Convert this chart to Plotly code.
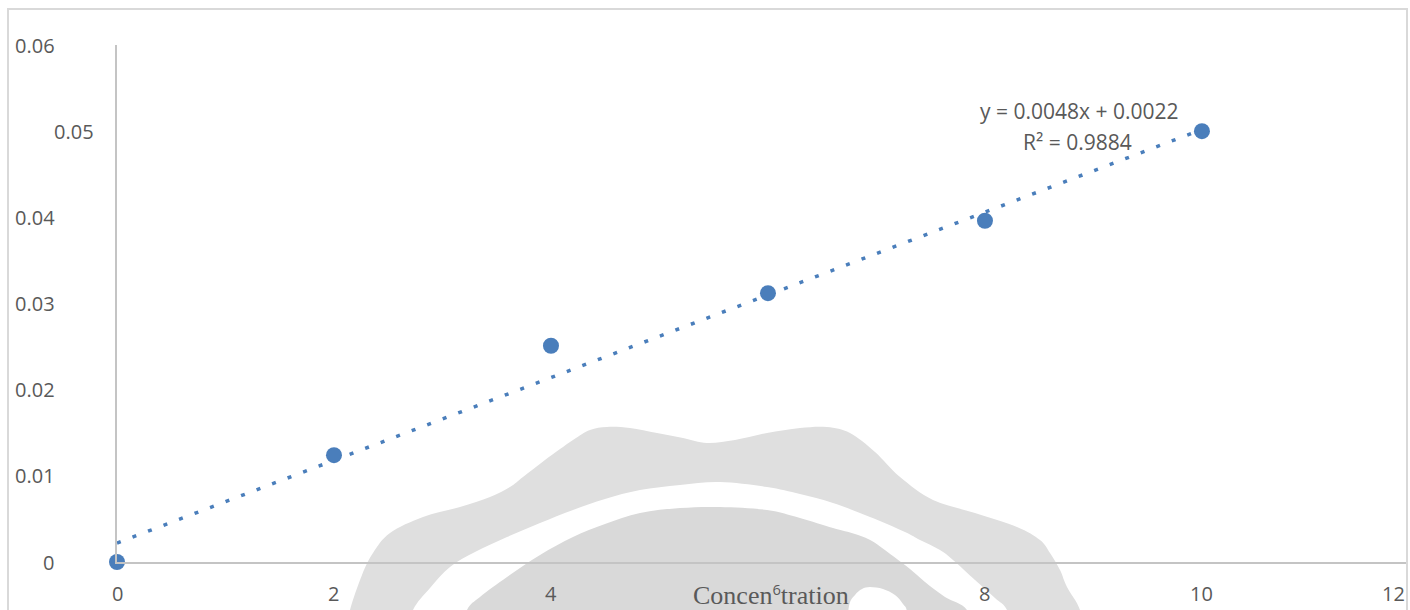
import plotly.graph_objects as go

# Calibration data: absorbance against concentration
concentration = [0, 2, 4, 6, 8, 10]
absorbance = [0.0, 0.0124, 0.0251, 0.0312, 0.0396, 0.0500]

# Linear trendline as reported on the chart
slope = 0.0048
intercept = 0.0022
r_squared = 0.9884
trend_x = [0, 10]

x_tick_values = [0, 2, 4, 8, 10]
x_tick_labels = ["0", "2", "4", "8", "10"]
x_last_label = "12"
y_tick_values = [0.06, 0.05, 0.04, 0.03, 0.02, 0.01, 0.0]
y_tick_labels = ["0.06", "0.05", "0.04", "0.03", "0.02", "0.01", "0"]

W, H = 1410, 610
L, R, T, B = 117, 3, 45, 48
PW, PH = W - L - R, H - T - B

BLUE = "#4A7EBB"
TXT = "#595959"
SANS = "Open Sans"


def px(xp):
    return (xp - L) / PW


def py(yp):
    return (H - B - yp) / PH


def smooth_path(points):
    """Closed outline through the points, smoothed with Catmull-Rom curves."""
    p = [(px(a), py(b)) for a, b in points]
    d = f"M {p[0][0]:.5f},{p[0][1]:.5f}"
    n = len(p)
    for i in range(n - 1):
        p0 = p[i - 1] if i > 0 else p[i]
        p1, p2 = p[i], p[i + 1]
        p3 = p[i + 2] if i + 2 < n else p[i + 1]
        c1 = (p1[0] + (p2[0] - p0[0]) / 6, p1[1] + (p2[1] - p0[1]) / 6)
        c2 = (p2[0] - (p3[0] - p1[0]) / 6, p2[1] - (p3[1] - p1[1]) / 6)
        d += (f" C {c1[0]:.5f},{c1[1]:.5f} {c2[0]:.5f},{c2[1]:.5f}"
              f" {p2[0]:.5f},{p2[1]:.5f}")
    return d + " Z"


trend_y = [slope * v + intercept for v in trend_x]

fig = go.Figure()
fig.add_trace(go.Scatter(
    x=trend_x, y=trend_y, mode="lines",
    line=dict(color=BLUE, width=3.5, dash="4px,12.6px"),
    hoverinfo="skip", showlegend=False, cliponaxis=False,
))
fig.add_trace(go.Scatter(
    x=concentration, y=absorbance, mode="markers",
    marker=dict(color=BLUE, size=16, line=dict(width=0)),
    showlegend=False, cliponaxis=False,
))

# background emblem
outer = [(345, 640), (350, 610), (362, 575), (373, 553), (390, 533), (423, 517),
         (460, 507), (490, 497), (510, 487), (523, 477), (545, 460), (573, 440),
         (590, 430), (607, 427), (630, 428), (657, 433), (683, 438), (707, 443),
         (735, 440), (767, 433), (800, 428), (827, 427), (850, 433), (875, 452),
         (900, 477), (933, 500), (975, 513), (1017, 527), (1040, 540), (1050, 553),
         (1060, 570), (1067, 587), (1080, 610), (1085, 640)]
ring = [(405, 640), (413, 610), (430, 588), (450, 567), (475, 552), (507, 537),
        (540, 523), (573, 510), (605, 499), (640, 490), (680, 485), (720, 482),
        (767, 487), (800, 494), (833, 503), (870, 517), (905, 532), (920, 540),
        (940, 550), (953, 560), (975, 580), (995, 598), (1007, 610), (1015, 640)]
inner = [(458, 640), (467, 610), (480, 597), (507, 577), (540, 555), (573, 537),
         (605, 524), (640, 513), (680, 508), (720, 507), (767, 510), (800, 518),
         (833, 528), (855, 534), (872, 541), (893, 556), (910, 569), (925, 582),
         (945, 597), (967, 610), (975, 640)]
notch = [(846, 640), (849, 606), (855, 595), (862, 589), (870, 587), (883, 589),
         (895, 595), (903, 604), (907, 612), (908, 640)]

shapes = []
for pts, col in [(outer, "#dfdfdf"), (ring, "#ffffff"), (inner, "#d9d9d9"), (notch, "#ffffff")]:
    shapes.append(dict(type="path", path=smooth_path(pts), xref="paper", yref="paper",
                       fillcolor=col, line=dict(width=0), layer="below"))

# chart frame
shapes.append(dict(type="rect", xref="paper", yref="paper",
                   x0=px(8), x1=px(1407), y0=py(640), y1=py(9),
                   line=dict(color="#d9d9d9", width=2), fillcolor="rgba(0,0,0,0)",
                   layer="above"))

annotations = []
for v, t in zip(x_tick_values, x_tick_labels):
    annotations.append(dict(x=v, y=0, xref="x", yref="y", text=t, showarrow=False,
                            yshift=-31, yanchor="middle", xanchor="center",
                            font=dict(family=SANS, size=20, color=TXT)))
annotations.append(dict(x=px(1407), y=0, xref="paper", yref="y", text=x_last_label,
                        showarrow=False, yshift=-31, yanchor="middle", xanchor="right",
                        font=dict(family=SANS, size=20, color=TXT)))

y_label_left = {"0.05": 52, "0": 41}
for v, t in zip(y_tick_values, y_tick_labels):
    annotations.append(dict(x=px(y_label_left.get(t, 13)), y=v, xref="paper", yref="y",
                            text=t, showarrow=False, xanchor="left", yanchor="middle",
                            font=dict(family=SANS, size=20, color=TXT)))

annotations.append(dict(x=px(1079), y=py(111), xref="paper", yref="paper",
                        text=f"y = {slope}x + {intercept}", showarrow=False,
                        xanchor="center", yanchor="middle",
                        font=dict(family=SANS, size=21, color=TXT)))
annotations.append(dict(x=px(1077), y=py(142), xref="paper", yref="paper",
                        text=f"R² = {r_squared}", showarrow=False,
                        xanchor="center", yanchor="middle",
                        font=dict(family=SANS, size=21, color=TXT)))

annotations.append(dict(x=px(691), y=py(594), xref="paper", yref="paper",
                        text="Concen<span style='font-family:Open Sans;font-size:21px'><sup>6</sup></span>tration",
                        showarrow=False, xanchor="left", yanchor="middle",
                        font=dict(family="Liberation Serif", size=26, color=TXT)))

fig.update_layout(
    width=W, height=H,
    margin=dict(l=L, r=R, t=T, b=B, pad=0),
    paper_bgcolor="white", plot_bgcolor="rgba(0,0,0,0)",
    shapes=shapes, annotations=annotations,
    xaxis=dict(range=[0, 11.89], showgrid=False, zeroline=False, showticklabels=False,
               showline=True, linecolor="#c4c4c4", linewidth=2, ticks=""),
    yaxis=dict(range=[0, 0.06], showgrid=False, zeroline=False, showticklabels=False,
               showline=True, linecolor="#c4c4c4", linewidth=2, ticks=""),
)

fig.write_html("out.html")
